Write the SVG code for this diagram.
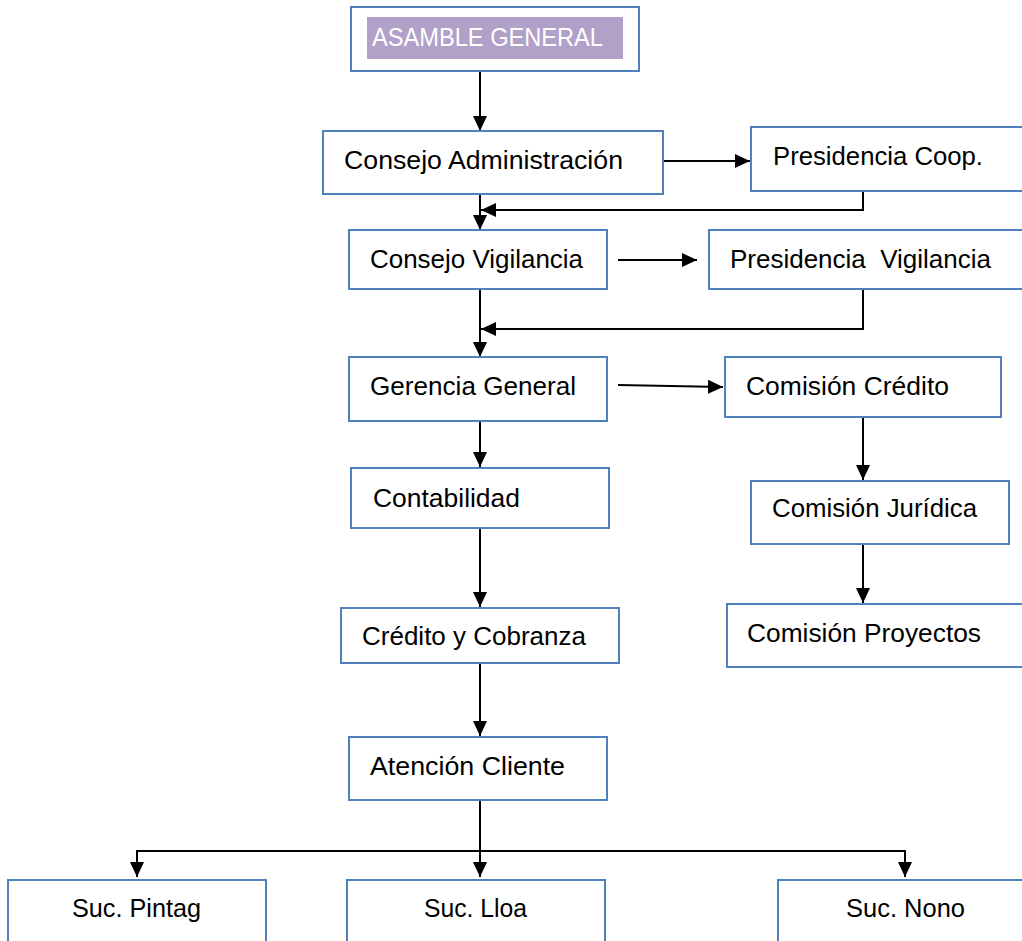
<svg xmlns="http://www.w3.org/2000/svg" width="1022" height="941" viewBox="0 0 1022 941">
<style>
.box{fill:#fff;stroke:#4F81BD;stroke-width:2}
.t{font-family:"Liberation Sans",Arial,sans-serif;font-size:26px;fill:#000;white-space:pre}
.w{fill:#fff}
.c{fill:none;stroke:#000;stroke-width:2}
</style>
<defs>
<marker id="ah" markerUnits="userSpaceOnUse" markerWidth="16" markerHeight="16" refX="15" refY="7" orient="auto">
<path d="M0,0 L15,7 L0,14 z" fill="#000"/>
</marker>
</defs>
<rect width="1022" height="941" fill="#fff"/>
<g id="connectors">
<line class="c" x1="480" y1="71" x2="480" y2="131" marker-end="url(#ah)"/>
<line class="c" x1="663" y1="161" x2="750" y2="161" marker-end="url(#ah)"/>
<polyline class="c" points="863,191 863,210 481,210" marker-end="url(#ah)"/>
<line class="c" x1="480" y1="194" x2="480" y2="230" marker-end="url(#ah)"/>
<line class="c" x1="618" y1="260" x2="697" y2="260" marker-end="url(#ah)"/>
<polyline class="c" points="863,289 863,329 481,329" marker-end="url(#ah)"/>
<line class="c" x1="480" y1="289" x2="480" y2="357" marker-end="url(#ah)"/>
<line class="c" x1="618" y1="385" x2="723" y2="387" marker-end="url(#ah)"/>
<line class="c" x1="480" y1="421" x2="480" y2="467" marker-end="url(#ah)"/>
<line class="c" x1="480" y1="528" x2="480" y2="607" marker-end="url(#ah)"/>
<line class="c" x1="480" y1="663" x2="480" y2="736" marker-end="url(#ah)"/>
<line class="c" x1="863" y1="417" x2="863" y2="480" marker-end="url(#ah)"/>
<line class="c" x1="863" y1="544" x2="863" y2="603" marker-end="url(#ah)"/>
<line class="c" x1="480" y1="800" x2="480" y2="877" marker-end="url(#ah)"/>
<polyline class="c" points="137,877 137,851 905,851 905,877" marker-end="url(#ah)"/>
<line class="c" x1="137" y1="860" x2="137" y2="877" marker-end="url(#ah)"/>
</g>
<g id="asamble">
<rect class="box" x="351" y="7" width="288" height="64"/>
<rect x="367" y="17" width="256" height="42" fill="#B1A0C7"/>
<text class="t w" x="372" y="46" textLength="231" lengthAdjust="spacingAndGlyphs">ASAMBLE GENERAL</text>
</g>
<g id="consejo-adm">
<rect class="box" x="323" y="131" width="340" height="63"/>
<text class="t" x="344" y="169" textLength="279" lengthAdjust="spacingAndGlyphs">Consejo Administración</text>
</g>
<g id="presidencia-coop">
<rect class="box" x="751" y="127" width="290" height="64"/>
<text class="t" x="773" y="165" textLength="210" lengthAdjust="spacingAndGlyphs">Presidencia Coop.</text>
</g>
<g id="consejo-vig">
<rect class="box" x="349" y="230" width="258" height="59"/>
<text class="t" x="370" y="268" textLength="213" lengthAdjust="spacingAndGlyphs">Consejo Vigilancia</text>
</g>
<g id="presidencia-vig">
<rect class="box" x="709" y="230" width="330" height="59"/>
<text class="t" x="730" y="268" textLength="261" lengthAdjust="spacingAndGlyphs">Presidencia  Vigilancia</text>
</g>
<g id="gerencia">
<rect class="box" x="349" y="357" width="258" height="64"/>
<text class="t" x="370" y="395" textLength="206" lengthAdjust="spacingAndGlyphs">Gerencia General</text>
</g>
<g id="comision-credito">
<rect class="box" x="725" y="357" width="276" height="60"/>
<text class="t" x="746" y="395" textLength="203" lengthAdjust="spacingAndGlyphs">Comisión Crédito</text>
</g>
<g id="contabilidad">
<rect class="box" x="351" y="468" width="258" height="60"/>
<text class="t" x="373" y="507" textLength="147" lengthAdjust="spacingAndGlyphs">Contabilidad</text>
</g>
<g id="comision-juridica">
<rect class="box" x="751" y="481" width="258" height="63"/>
<text class="t" x="772" y="517" textLength="205" lengthAdjust="spacingAndGlyphs">Comisión Jurídica</text>
</g>
<g id="credito-cobranza">
<rect class="box" x="341" y="608" width="278" height="55"/>
<text class="t" x="362" y="645" textLength="224" lengthAdjust="spacingAndGlyphs">Crédito y Cobranza</text>
</g>
<g id="comision-proyectos">
<rect class="box" x="727" y="604" width="310" height="63"/>
<text class="t" x="747" y="642" textLength="234" lengthAdjust="spacingAndGlyphs">Comisión Proyectos</text>
</g>
<g id="atencion">
<rect class="box" x="349" y="737" width="258" height="63"/>
<text class="t" x="370" y="775" textLength="195" lengthAdjust="spacingAndGlyphs">Atención Cliente</text>
</g>
<g id="suc-pintag">
<rect class="box" x="8" y="880" width="258" height="80"/>
<text class="t" x="72" y="917" textLength="129" lengthAdjust="spacingAndGlyphs">Suc. Pintag</text>
</g>
<g id="suc-lloa">
<rect class="box" x="347" y="880" width="258" height="80"/>
<text class="t" x="424" y="917" textLength="103" lengthAdjust="spacingAndGlyphs">Suc. Lloa</text>
</g>
<g id="suc-nono">
<rect class="box" x="778" y="880" width="270" height="80"/>
<text class="t" x="846" y="917" textLength="119" lengthAdjust="spacingAndGlyphs">Suc. Nono</text>
</g>
</svg>
